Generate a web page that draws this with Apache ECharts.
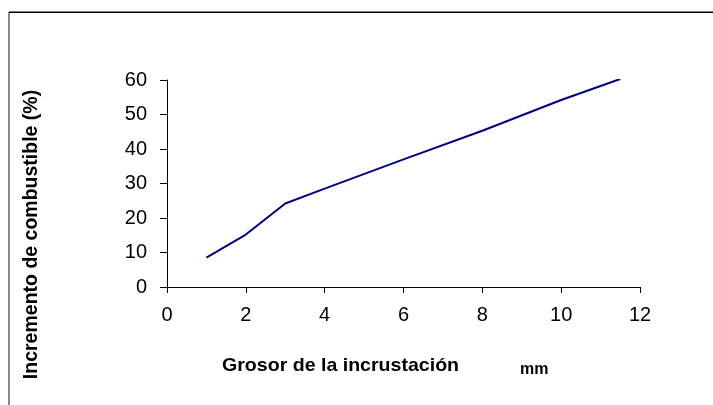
<!DOCTYPE html>
<html><head><meta charset="utf-8">
<script src="https://cdn.jsdelivr.net/npm/echarts@6/dist/echarts.min.js"></script>
<style>html,body{margin:0;padding:0;background:#fff}#c{width:713px;height:405px}</style>
</head><body><div id="c"></div>
<script>
const xValues = [1, 2, 3, 4, 6, 8, 10, 11.5];
const yValues = [8.5, 15.2, 24.2, 28.5, 37, 45.3, 54.2, 60.3];
const yTitle = 'Incremento de combustible (%)';
const xTitle = 'Grosor de la incrustación';
const xUnit = 'mm';

const chart = echarts.init(document.getElementById('c'), null, {renderer: 'canvas'});
chart.setOption({
  backgroundColor: '#fff',
  animation: false,
  grid: {left: 167, top: 80, right: 73, bottom: 118, containLabel: false},
  xAxis: {
    type: 'value', min: 0, max: 12, interval: 2,
    axisLine: {show: true, onZero: false, lineStyle: {color: '#000', width: 1}},
    axisTick: {show: true, length: 6, lineStyle: {color: '#000'}},
    splitLine: {show: false},
    axisLabel: {color: '#000', fontFamily: 'Liberation Sans', fontSize: 20, margin: 18}
  },
  yAxis: {
    type: 'value', min: 0, max: 60, interval: 10,
    axisLine: {show: true, lineStyle: {color: '#000', width: 1}},
    axisTick: {show: true, length: 7, lineStyle: {color: '#000'}},
    splitLine: {show: false},
    axisLabel: {color: '#000', fontFamily: 'Liberation Sans', fontSize: 20, margin: 20}
  },
  series: [{
    type: 'line',
    data: xValues.map((x, i) => [x, yValues[i]]),
    showSymbol: false, symbol: 'none',
    lineStyle: {color: '#000080', width: 2}
  }],
  graphic: [
    {type: 'rect', shape: {x: 8, y: 12, width: 2, height: 400}, style: {fill: '#888'}},
    {type: 'rect', shape: {x: 9, y: 11.5, width: 704, height: 1.5}, style: {fill: '#000'}},
    {type: 'text', x: 32, y: 234.5, rotation: Math.PI / 2,
     style: {text: yTitle, fontFamily: 'Liberation Sans', fontWeight: 'bold', fontSize: 19.5,
             fill: '#000', textAlign: 'center', textVerticalAlign: 'middle'}},
    {type: 'text', x: 222, y: 366, scaleX: 1.03,
     style: {text: xTitle, fontFamily: 'Liberation Sans', fontWeight: 'bold', fontSize: 19,
             fill: '#000', textAlign: 'left', textVerticalAlign: 'middle'}},
    {type: 'text', x: 520, y: 370,
     style: {text: xUnit, fontFamily: 'Liberation Sans', fontWeight: 'bold', fontSize: 16,
             fill: '#000', textAlign: 'left', textVerticalAlign: 'middle'}}
  ]
});
</script></body></html>
